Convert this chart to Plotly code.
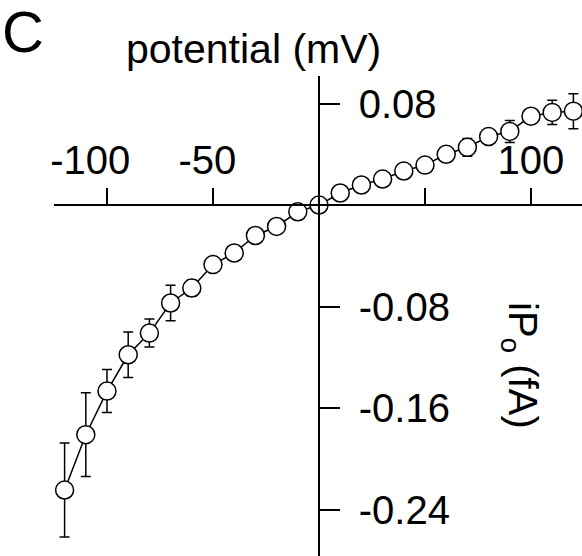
import plotly.graph_objects as go

potential_mV = [-120, -110, -100, -90, -80, -70, -60, -50, -40, -30, -20, -10,
                0, 10, 20, 30, 40, 50, 60, 70, 80, 90, 100, 110, 120]
iPo_fA = [-0.2246, -0.181, -0.1466, -0.118, -0.1009, -0.0772, -0.0654, -0.0469,
          -0.0378, -0.024, -0.0169, -0.0053, 0.0, 0.0095, 0.0158, 0.0205, 0.0268,
          0.0315, 0.040, 0.0455, 0.054, 0.058, 0.070, 0.073, 0.074]
sem_fA = [0.037, 0.033, 0.017, 0.018, 0.011, 0.014, 0.0063, 0.006, 0.003, 0.002,
          0.002, 0.002, 0.002, 0.002, 0.002, 0.002, 0.003, 0.005, 0.003, 0.007,
          0.004, 0.0087, 0.005, 0.0095, 0.0138]

x_tickvals = [-100, -50, 100]
x_ticktext = ["-100\u00a0\u00a0\u00a0", "-50\u00a0", "100"]
x_unlabelled_ticks = [50]
y_tickvals = [0.08, -0.08, -0.16, -0.24]
y_ticktext = ["0.08", "-0.08", "-0.16", "-0.24"]

X_RANGE = [-125, 124.06]
Y_RANGE = [-0.2766, 0.1017]

FONT = "Liberation Sans, Arial, Helvetica, sans-serif"

fig = go.Figure()
fig.add_trace(go.Scatter(
    x=potential_mV, y=iPo_fA,
    mode="lines+markers",
    line=dict(color="black", width=1.5),
    marker=dict(symbol="circle", size=18, color="white",
                line=dict(color="black", width=1.5)),
    error_y=dict(type="data", array=sem_fA, visible=True,
                 color="black", thickness=1.5, width=5),
    showlegend=False,
))

xpos = (0 - Y_RANGE[0]) / (Y_RANGE[1] - Y_RANGE[0])
ypos = (0 - X_RANGE[0]) / (X_RANGE[1] - X_RANGE[0])

fig.update_layout(
    width=582, height=556,
    margin=dict(l=54, r=0, t=76, b=0, pad=0),
    paper_bgcolor="white", plot_bgcolor="white",
    font=dict(family=FONT, color="black"),
    xaxis=dict(
        range=X_RANGE, side="top", anchor="free", position=xpos,
        showgrid=False, zeroline=False, showline=True,
        linecolor="black", linewidth=1.5,
        ticks="outside", ticklen=16, tickwidth=1.5, tickcolor="black",
        tickvals=x_tickvals, ticktext=x_ticktext,
        tickfont=dict(size=40, family=FONT, color="black"),
        ticklabelstandoff=-2,
        minor=dict(tickvals=x_unlabelled_ticks, ticks="outside", ticklen=16,
                   tickwidth=1.5, tickcolor="black", showgrid=False),
    ),
    yaxis=dict(
        range=Y_RANGE, side="right", anchor="free", position=ypos,
        showgrid=False, zeroline=False, showline=True,
        linecolor="black", linewidth=1.5,
        ticks="outside", ticklen=20, tickwidth=1.5, tickcolor="black",
        tickvals=y_tickvals, ticktext=y_ticktext,
        tickfont=dict(size=40, family=FONT, color="black"),
        ticklabelstandoff=11,
    ),
    annotations=[
        dict(text="C", xref="paper", yref="paper", x=-54/528, y=1 + 45/480,
             xanchor="left", yanchor="middle", showarrow=False,
             font=dict(size=58, family=FONT, color="black")),
        dict(text="potential (mV)", xref="paper", yref="paper",
             x=(253 - 54) / 528, y=1 + 27/480,
             xanchor="center", yanchor="middle", showarrow=False,
             font=dict(size=41, family=FONT, color="black")),
        dict(text="iP<sub>o</sub> (fA)", xref="paper", yref="paper",
             x=(520 - 54) / 528, y=1 - (365 - 76) / 480,
             xanchor="center", yanchor="middle", showarrow=False, textangle=90,
             font=dict(size=40, family=FONT, color="black")),
    ],
)

fig.write_html("out.html")
